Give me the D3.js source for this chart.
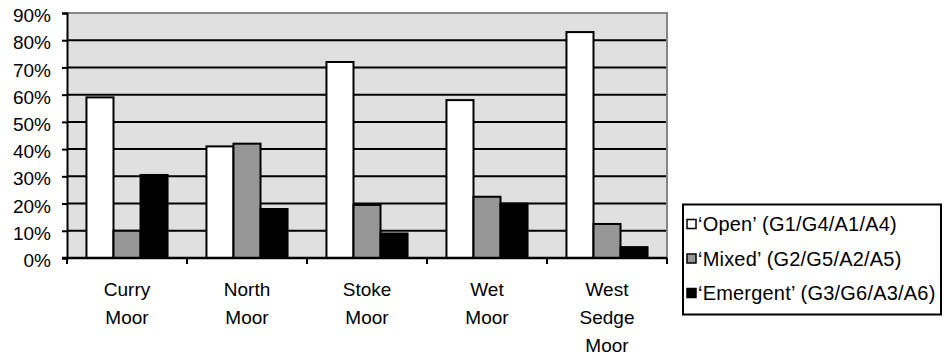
<!DOCTYPE html>
<html>
<head>
<meta charset="utf-8">
<script src="https://cdn.jsdelivr.net/npm/d3@7"></script>
<style>
  html, body { margin: 0; padding: 0; background: #fff; }
  svg { display: block; font-family: "Liberation Sans", Arial, sans-serif; }
</style>
</head>
<body>
<svg id="chart" width="944" height="356"></svg>
<script>
// Moor sites and the share of each vegetation group
const categories = [["Curry", "Moor"], ["North", "Moor"], ["Stoke", "Moor"], ["Wet", "Moor"], ["West", "Sedge", "Moor"]];
const seriesNames = ["\u2018Open\u2019 (G1/G4/A1/A4)", "\u2018Mixed\u2019 (G2/G5/A2/A5)", "\u2018Emergent\u2019 (G3/G6/A3/A6)"];
const openValues = [0.59, 0.41, 0.72, 0.58, 0.83];
const mixedValues = [0.10, 0.42, 0.195, 0.225, 0.125];
const emergentValues = [0.305, 0.18, 0.09, 0.20, 0.04];
const seriesFills = ["#ffffff", "#969696", "#000000"];
const yTicks = [0, 0.1, 0.2, 0.3, 0.4, 0.5, 0.6, 0.7, 0.8, 0.9];

const seriesValues = [openValues, mixedValues, emergentValues];
const catKeys = categories.map(c => c.join(" "));

const svg = d3.select("#chart");
const plot = { left: 67, right: 667, top: 13, bottom: 258 };

const y = d3.scaleLinear().domain([0, 0.9]).range([plot.bottom, plot.top]);
const x0 = d3.scaleBand().domain(catKeys).range([plot.left, plot.right]).padding(0);
const x1 = d3.scaleBand().domain(d3.range(seriesNames.length))
  .range([0, x0.bandwidth()]).paddingInner(0).paddingOuter(0.72);

// plot background
svg.append("rect")
  .attr("x", plot.left).attr("y", plot.top)
  .attr("width", plot.right - plot.left).attr("height", plot.bottom - plot.top)
  .attr("fill", "#e0e0e0");

// top and right frame
svg.append("path")
  .attr("d", `M${plot.left},${plot.top}H${plot.right}V${plot.bottom}`)
  .attr("fill", "none").attr("stroke", "#868686").attr("stroke-width", 2);

// horizontal gridlines
svg.append("g").selectAll("line")
  .data(yTicks.filter(t => t > 0 && t < 0.9))
  .join("line")
  .attr("x1", plot.left).attr("x2", plot.right - 1)
  .attr("y1", d => y(d)).attr("y2", d => y(d))
  .attr("stroke", "#000").attr("stroke-width", 2);

// bars
const groups = svg.append("g").selectAll("g")
  .data(catKeys)
  .join("g")
  .attr("transform", d => `translate(${x0(d)},0)`);

groups.selectAll("rect")
  .data((d, i) => seriesValues.map((vals, s) => ({ s, v: vals[i] })))
  .join("rect")
  .attr("x", d => x1(d.s))
  .attr("width", x1.bandwidth())
  .attr("y", d => y(d.v))
  .attr("height", d => plot.bottom - y(d.v))
  .attr("fill", d => seriesFills[d.s])
  .attr("stroke", "#000")
  .attr("stroke-width", 2);

// y axis
const yAxis = svg.append("g")
  .attr("transform", `translate(${plot.left},0)`)
  .call(d3.axisLeft(y).tickValues(yTicks).tickFormat(d3.format(".0%")).tickSize(5).tickPadding(11));
yAxis.select(".domain").attr("stroke", "#000").attr("stroke-width", 2);
yAxis.selectAll(".tick line").attr("stroke", "#000").attr("stroke-width", 2);
yAxis.selectAll(".tick text")
  .attr("font-size", 19).attr("fill", "#000")
  .attr("font-family", "Liberation Sans, Arial, sans-serif")
  .attr("dy", "0.45em");

// x axis with boundary ticks between groups
const xAxis = svg.append("g").attr("transform", `translate(0,${plot.bottom})`);
xAxis.append("line")
  .attr("x1", plot.left - 5).attr("x2", plot.right)
  .attr("stroke", "#000").attr("stroke-width", 2.5);
xAxis.selectAll("line.tick")
  .data(catKeys.map(k => x0(k)).concat([x0(catKeys[catKeys.length - 1]) + x0.bandwidth()]))
  .join("line")
  .attr("class", "tick")
  .attr("x1", d => d).attr("x2", d => d)
  .attr("y1", 0).attr("y2", 6)
  .attr("stroke", "#000").attr("stroke-width", 2);

// category labels (multi-line)
const labels = svg.append("g").selectAll("text")
  .data(categories)
  .join("text")
  .attr("x", (d, i) => x0(catKeys[i]) + x0.bandwidth() / 2)
  .attr("y", 296)
  .attr("text-anchor", "middle")
  .attr("font-size", 19)
  .attr("fill", "#000");
labels.selectAll("tspan")
  .data(d => d)
  .join("tspan")
  .attr("x", function () { return this.parentNode.getAttribute("x"); })
  .attr("dy", (d, i) => i === 0 ? 0 : 28)
  .text(d => d);

// legend
const legend = svg.append("g");
legend.append("rect")
  .attr("x", 683).attr("y", 204.5)
  .attr("width", 258).attr("height", 110)
  .attr("fill", "#fff").attr("stroke", "#000").attr("stroke-width", 2);
const items = legend.selectAll("g.item")
  .data(seriesNames)
  .join("g")
  .attr("class", "item")
  .attr("transform", (d, i) => `translate(687,${224 + i * 34.5})`);
items.append("rect")
  .attr("x", 0).attr("y", -4.5).attr("width", 9).attr("height", 9)
  .attr("fill", (d, i) => seriesFills[i])
  .attr("stroke", "#000").attr("stroke-width", 1.5);
items.append("text")
  .attr("x", 11).attr("y", 0).attr("dy", "0.36em")
  .attr("font-size", 20)
  .attr("letter-spacing", 0.2)
  .attr("fill", "#000")
  .text(d => d);
</script>
</body>
</html>
